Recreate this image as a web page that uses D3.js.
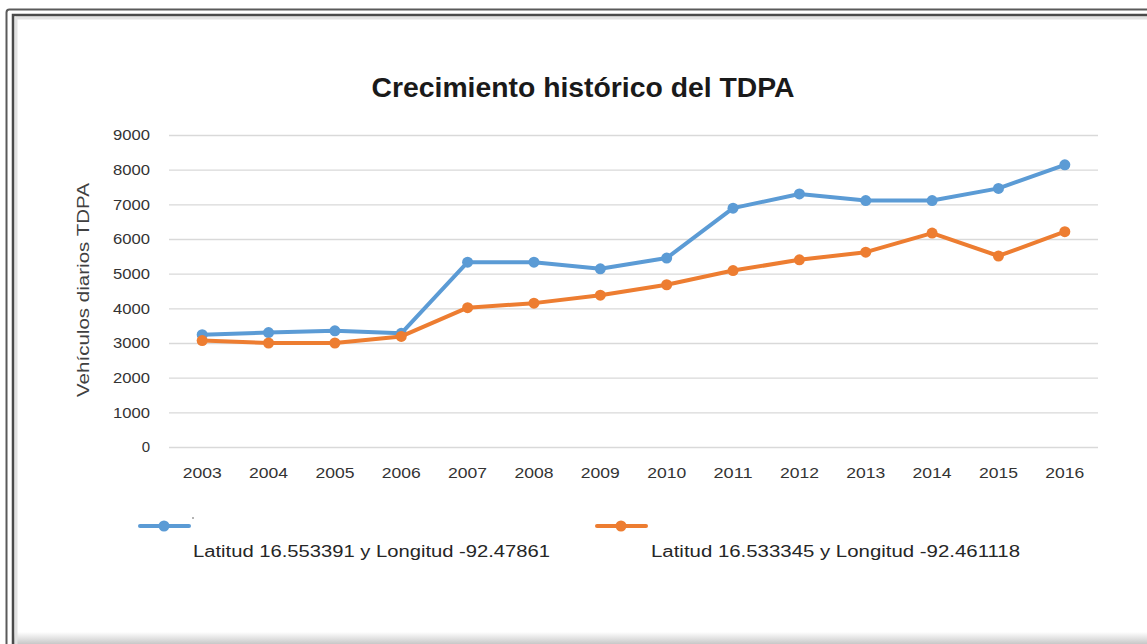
<!DOCTYPE html>
<html>
<head>
<meta charset="utf-8">
<script src="https://cdn.jsdelivr.net/npm/d3@7/dist/d3.min.js"></script>
<style>
  body { margin: 0; background: #fff; }
  svg { display: block; }
</style>
</head>
<body>
<div id="chart"></div>
<script>
// data
var years = ['2003', '2004', '2005', '2006', '2007', '2008', '2009', '2010', '2011', '2012', '2013', '2014', '2015', '2016'];
var serieA = [3240, 3300, 3350, 3280, 5330, 5330, 5140, 5450, 6890, 7300, 7110, 7110, 7460, 8140];
var serieB = [3070, 3000, 3000, 3190, 4020, 4150, 4380, 4680, 5090, 5400, 5620, 6170, 5510, 6210];
var yTicks = [0, 1000, 2000, 3000, 4000, 5000, 6000, 7000, 8000, 9000];
var seriesNames = ['Latitud 16.553391 y Longitud -92.47861', 'Latitud 16.533345 y Longitud -92.461118'];
var colors = ['#5b9bd5', '#ed7d31'];

var W = 1147, H = 644;
var svg = d3.select('#chart').append('svg')
    .attr('width', W)
    .attr('height', H);

// frame and shadow
var defs = svg.append('defs');
var grad = defs.append('linearGradient').attr('id', 'shadowB').attr('x1', 0).attr('y1', 0).attr('x2', 0).attr('y2', 1);
grad.append('stop').attr('offset', '0%').attr('stop-color', '#ffffff');
grad.append('stop').attr('offset', '100%').attr('stop-color', '#c8c8c8');
svg.append('rect').attr('x', 14).attr('y', 632).attr('width', W).attr('height', 12).attr('fill', 'url(#shadowB)');
svg.append('line').attr('x1', 16).attr('x2', 16).attr('y1', 17).attr('y2', H).attr('stroke', '#e2e2e2').attr('stroke-width', 3);
svg.append('line').attr('x1', 16).attr('x2', W).attr('y1', 18).attr('y2', 18).attr('stroke', '#e2e2e2').attr('stroke-width', 3);
svg.append('path').attr('d', 'M6.5,' + (H + 2) + 'V12.5Q6.5,9.5 9.5,9.5H' + (W + 2))
    .attr('fill', 'none').attr('stroke', '#5a5a5a').attr('stroke-width', 2);
svg.append('path').attr('d', 'M13,' + (H + 2) + 'V15H' + (W + 2))
    .attr('fill', 'none').attr('stroke', '#4a4a4a').attr('stroke-width', 2.5);

var margin = {left: 169, right: 49, top: 135, bottom: 197};
var width = W - margin.left - margin.right;
var height = H - margin.top - margin.bottom;

var x = d3.scaleBand().domain(years).range([0, width]);
var y = d3.scaleLinear().domain([0, 9000]).range([height, 0]);

var chartGroup = svg.append('g').attr('transform', 'translate(' + margin.left + ',' + margin.top + ')');

// gridlines
chartGroup.append('g')
    .attr('class', 'grid')
    .call(d3.axisLeft(y).tickValues(yTicks).tickSize(-width).tickFormat(''))
    .call(function (g) {
        g.select('.domain').remove();
        g.selectAll('line').attr('stroke', '#d9d9d9').attr('stroke-width', 1.3);
    });

// y axis labels
chartGroup.append('g')
    .attr('class', 'y axis')
    .call(d3.axisLeft(y).tickValues(yTicks).tickSize(0).tickPadding(19).tickFormat(d3.format('d')))
    .call(function (g) {
        g.select('.domain').remove();
        g.selectAll('text')
            .attr('font-family', 'Liberation Sans, Arial, sans-serif')
            .attr('font-size', 15)
            .attr('fill', '#333333')
            .attr('textLength', function (d) { return d === 0 ? null : 37; })
            .attr('lengthAdjust', 'spacingAndGlyphs');
    });

// x axis labels
chartGroup.append('g')
    .attr('class', 'x axis')
    .attr('transform', 'translate(0,' + height + ')')
    .call(d3.axisBottom(x).tickSize(0).tickPadding(20))
    .call(function (g) {
        g.select('.domain').remove();
        g.selectAll('text')
            .attr('font-family', 'Liberation Sans, Arial, sans-serif')
            .attr('font-size', 15)
            .attr('fill', '#333333')
            .attr('textLength', 39)
            .attr('lengthAdjust', 'spacingAndGlyphs');
    });

// series
var line = d3.line()
    .x(function (d, i) { return x(years[i]) + x.bandwidth() / 2; })
    .y(function (d) { return y(d); });

[serieA, serieB].forEach(function (s, k) {
    chartGroup.append('path')
        .attr('d', line(s))
        .attr('fill', 'none')
        .attr('stroke', colors[k])
        .attr('stroke-width', 4)
        .attr('stroke-linejoin', 'round');
    chartGroup.selectAll('.pt' + k)
        .data(s)
        .enter().append('circle')
        .attr('class', 'pt' + k)
        .attr('cx', function (d, i) { return x(years[i]) + x.bandwidth() / 2; })
        .attr('cy', function (d) { return y(d); })
        .attr('r', 5.5)
        .attr('fill', colors[k]);
});

// title
svg.append('text')
    .attr('x', 583)
    .attr('y', 97)
    .attr('text-anchor', 'middle')
    .attr('font-family', 'Liberation Sans, Arial, sans-serif')
    .attr('font-weight', 'bold')
    .attr('font-size', 27)
    .attr('fill', '#1a1a1a')
    .attr('textLength', 423)
    .attr('lengthAdjust', 'spacingAndGlyphs')
    .text('Crecimiento histórico del TDPA');

// y axis title
svg.append('text')
    .attr('transform', 'translate(89,290) rotate(-90)')
    .attr('text-anchor', 'middle')
    .attr('font-family', 'Liberation Sans, Arial, sans-serif')
    .attr('font-size', 17)
    .attr('fill', '#404040')
    .attr('textLength', 214)
    .attr('lengthAdjust', 'spacingAndGlyphs')
    .text('Vehículos diarios TDPA');

// legend
var legend = [
    {sx: 140, tx: 193, tw: 357},
    {sx: 597, tx: 651, tw: 369}
];
legend.forEach(function (l, k) {
    var g = svg.append('g');
    g.append('line')
        .attr('x1', l.sx).attr('x2', l.sx + 49)
        .attr('y1', 526).attr('y2', 526)
        .attr('stroke', colors[k]).attr('stroke-width', 4).attr('stroke-linecap', 'round');
    g.append('circle')
        .attr('cx', l.sx + 24).attr('cy', 526).attr('r', 5.5).attr('fill', colors[k]);
    g.append('text')
        .attr('x', l.tx)
        .attr('y', 557)
        .attr('font-family', 'Liberation Sans, Arial, sans-serif')
        .attr('font-size', 16)
        .attr('fill', '#262626')
        .attr('textLength', l.tw)
        .attr('lengthAdjust', 'spacingAndGlyphs')
        .text(seriesNames[k]);
});
svg.append('circle').attr('cx', 193).attr('cy', 518).attr('r', 0.8).attr('fill', '#555');
</script>
</body>
</html>
